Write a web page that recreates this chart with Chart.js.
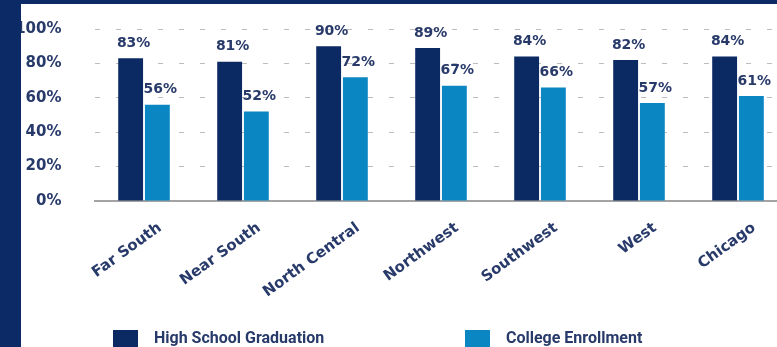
<!DOCTYPE html>
<html>
<head>
<meta charset="utf-8">
<script src="https://cdn.jsdelivr.net/npm/chart.js@4"></script>
<style>
    html, body { margin: 0; padding: 0; background: #fff; }
    #wrap { position: relative; width: 777px; height: 347px; overflow: hidden; background: #fff; }
    #wrap canvas { position: absolute; left: 0; top: 0; }
    .frame-left { position: absolute; left: 0; top: 0; width: 21px; height: 347px; background: #0c2b66; }
    .frame-top { position: absolute; left: 0; top: 0; width: 777px; height: 4px; background: #0c2b66; }
</style>
</head>
<body>
<div id="wrap">
    <canvas id="myChart" width="800" height="347" style="width:800px;height:347px"></canvas>
    <div class="frame-left"></div>
    <div class="frame-top"></div>
</div>
<script>
const regions = ["Far South", "Near South", "North Central", "Northwest", "Southwest", "West", "Chicago"];
const hsGraduation = [83, 81, 90, 89, 84, 82, 84];       // % high school graduation
const collegeEnrollment = [56, 52, 72, 67, 66, 57, 61];  // % college enrollment
const seriesNames = ["High School Graduation", "College Enrollment"];
const yTicks = [0, 20, 40, 60, 80, 100];

const darkBlue = "#0b2a63";
const lightBlue = "#0a86c2";
const textColor = "#283a6a";

// percent labels above each bar
const valueLabels = {
    id: 'valueLabels',
    afterDatasetsDraw(chart) {
        const ctx = chart.ctx;
        ctx.save();
        ctx.font = 'bold 14px "DejaVu Sans"';
        ctx.fillStyle = textColor;
        ctx.textAlign = 'center';
        ctx.textBaseline = 'middle';
        chart.data.datasets.forEach(function (ds, i) {
            chart.getDatasetMeta(i).data.forEach(function (bar, j) {
                ctx.fillText(ds.data[j] + '%', bar.x + 3, bar.y - 15);
            });
        });
        ctx.restore();
    }
};

// legend row along the bottom edge
const bottomLegend = {
    id: 'bottomLegend',
    afterDraw(chart) {
        const ctx = chart.ctx;
        const slots = [113, 465];
        ctx.save();
        ctx.font = 'bold 16px Roboto';
        ctx.textBaseline = 'middle';
        chart.data.datasets.forEach(function (ds, i) {
            ctx.fillStyle = ds.backgroundColor;
            ctx.fillRect(slots[i], 330, 25, 25);
            ctx.fillStyle = textColor;
            ctx.fillText(ds.label, slots[i] + 41, 339);
        });
        ctx.restore();
    }
};

new Chart("myChart", {
    type: "bar",
    data: {
        labels: regions,
        datasets: [{
            label: seriesNames[0],
            backgroundColor: darkBlue,
            data: hsGraduation
        }, {
            label: seriesNames[1],
            backgroundColor: lightBlue,
            data: collegeEnrollment
        }]
    },
    options: {
        responsive: false,
        animation: false,
        categoryPercentage: 0.54,
        barPercentage: 0.93,
        layout: {
            padding: { top: 29, right: 12.5, left: 0, bottom: 0 }
        },
        plugins: {
            legend: { display: false },
            tooltip: { enabled: false }
        },
        scales: {
            y: {
                min: 0,
                max: 100,
                afterFit: function (scale) { scale.width = 94.5; },
                afterBuildTicks: function (scale) {
                    scale.ticks = yTicks.map(function (v) { return { value: v }; });
                },
                ticks: {
                    padding: 4,
                    color: textColor,
                    font: { family: "DejaVu Sans", size: 15, weight: "bold" },
                    callback: function (v) { return v + '%'; }
                },
                grid: {
                    color: "#bdbdbd",
                    lineWidth: 1,
                    drawTicks: true,
                    tickLength: 29,
                    tickColor: "rgba(0,0,0,0)"
                },
                border: { display: false, dash: [5, 16] }
            },
            x: {
                afterFit: function (scale) { scale.height = 146; },
                ticks: {
                    minRotation: 36,
                    maxRotation: 36,
                    labelOffset: 16,
                    padding: 10,
                    color: textColor,
                    font: { family: "DejaVu Sans", size: 15, weight: "bold" }
                },
                grid: { display: false },
                border: { display: true, color: "#a3a3a3", width: 2 }
            }
        }
    },
    plugins: [valueLabels, bottomLegend]
});
</script>
</body>
</html>
